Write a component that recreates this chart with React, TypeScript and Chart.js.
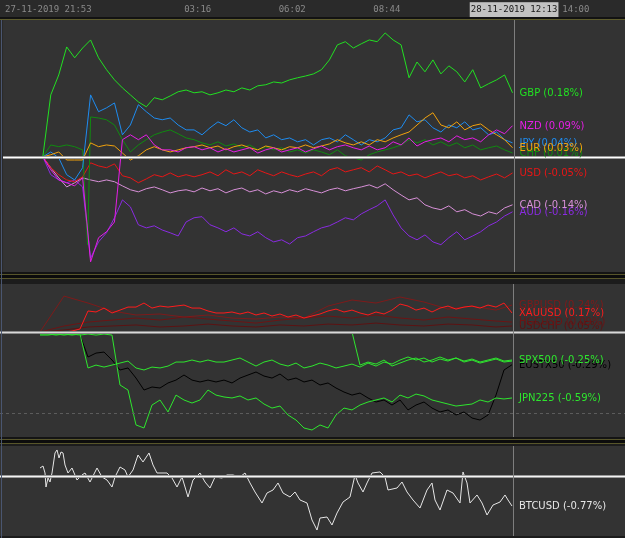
import React, { useEffect, useRef } from 'react';
import { Chart, registerables } from 'chart.js';

Chart.register(...registerables);

// ---------- axis / time data ----------
const bars = [40, 48, 56, 64, 72, 80, 88, 96, 104, 112, 120, 128, 136, 144, 152, 160, 168, 176, 184, 192,
  200, 208, 216, 224, 232, 240, 248, 256, 264, 272, 280, 288, 296, 304, 312, 320, 328, 336, 344, 352,
  360, 368, 376, 384, 392, 400, 408, 416, 424, 432, 440, 448, 456, 464, 472, 480, 488, 496, 504, 512];
const chfBars = [40, 48, 56, 64, 72, 80, 85, 88, 96, 104, 112, 120, 128, 136, 144, 152, 160, 168, 176, 184, 192,
  200, 208, 216, 224, 232, 240, 248, 256, 264, 272, 280, 288, 296, 304, 312, 320, 328, 336, 344, 352,
  360, 368, 376, 384, 392, 400, 408, 416, 424, 432, 440, 448, 456, 464, 472, 480, 488, 496, 504, 512];
const coarseBars = [40, 64, 88, 112, 136, 160, 184, 208, 232, 256, 280, 304, 328, 352, 376, 400, 424, 448, 472, 496, 512];
const btcBars = [40, 43, 45, 46, 48, 50, 52, 55, 57, 59, 61, 63, 65, 68, 72, 77, 82, 85, 90, 97,
  102, 107, 112, 115, 120, 125, 128, 133, 138, 143, 149, 153, 157, 162, 167, 172, 177, 182, 188, 193,
  200, 205, 210, 215, 222, 227, 233, 240, 245, 250, 255, 262, 267, 273, 278, 283, 290, 295, 300, 307,
  312, 317, 320, 327, 332, 337, 343, 350, 355, 358, 363, 367, 372, 380, 385, 388, 397, 402, 407, 413,
  420, 427, 432, 435, 440, 447, 453, 460, 463, 467, 470, 477, 482, 487, 493, 500, 505, 508, 512];
const tickBars = [2, 182, 277, 372, 470, 562];
const tickLabels = ['27-11-2019 21:53', '03:16', '06:02', '08:44', '28-11-2019 12:13', '14:00'];
const cursorBar = 513;
const highlightedTick = 4;

// ---------- panel 1: currencies (%) ----------
const gbp = [0, 0.177, 0.234, 0.314, 0.283, 0.311, 0.334, 0.283, 0.249, 0.220,
  0.197, 0.177, 0.157, 0.143, 0.169, 0.163, 0.174, 0.186, 0.191, 0.183,
  0.186, 0.177, 0.183, 0.191, 0.186, 0.197, 0.191, 0.203, 0.206, 0.214,
  0.211, 0.220, 0.226, 0.231, 0.237, 0.249, 0.277, 0.320, 0.329, 0.311,
  0.323, 0.334, 0.329, 0.354, 0.334, 0.320, 0.226, 0.271, 0.243, 0.277,
  0.237, 0.260, 0.243, 0.214, 0.249, 0.197, 0.209, 0.220, 0.234, 0.183];
const nzd = [0, -0.037, -0.066, -0.074, -0.083, -0.060, -0.300, -0.231, -0.214, -0.186,
  0.049, 0.063, 0.049, 0.063, 0.034, 0.020, 0.020, 0.014, 0.026, 0.029,
  0.020, 0.026, 0.014, 0.023, 0.014, 0.020, 0.026, 0.011, 0.020, 0.026,
  0.014, 0.020, 0.026, 0.014, 0.023, 0.031, 0.020, 0.029, 0.034, 0.026,
  0.020, 0.031, 0.020, 0.026, 0.043, 0.034, 0.054, 0.031, 0.043, 0.049,
  0.054, 0.043, 0.060, 0.049, 0.054, 0.043, 0.063, 0.077, 0.066, 0.089];
const jpy = [0, 0.014, -0.003, -0.051, -0.066, -0.031, 0.177, 0.129, 0.140, 0.154,
  0.063, 0.091, 0.149, 0.129, 0.111, 0.106, 0.111, 0.091, 0.077, 0.077,
  0.063, 0.083, 0.100, 0.089, 0.106, 0.083, 0.071, 0.077, 0.054, 0.063,
  0.049, 0.054, 0.043, 0.049, 0.034, 0.049, 0.054, 0.043, 0.063, 0.049,
  0.034, 0.049, 0.043, 0.054, 0.077, 0.083, 0.120, 0.100, 0.106, 0.083,
  0.071, 0.091, 0.083, 0.100, 0.077, 0.083, 0.063, 0.071, 0.049, 0.040];
const eur = [0, 0.006, 0.014, -0.009, -0.009, -0.009, 0.040, 0.029, 0.034, 0.031,
  0.011, -0.009, 0.003, 0.020, 0.029, 0.020, 0.014, 0.020, 0.026, 0.029,
  0.034, 0.026, 0.031, 0.020, 0.029, 0.034, 0.026, 0.020, 0.031, 0.026,
  0.020, 0.029, 0.026, 0.034, 0.026, 0.031, 0.037, 0.049, 0.040, 0.034,
  0.043, 0.034, 0.049, 0.043, 0.054, 0.063, 0.071, 0.091, 0.111, 0.126,
  0.091, 0.083, 0.100, 0.077, 0.089, 0.094, 0.077, 0.063, 0.049, 0.026];
const chf = [0, 0.034, 0.029, 0.034, 0.029, 0.020, -0.251, 0.114, 0.111, 0.106, 0.091,
  0.049, 0.014, 0.034, 0.049, 0.063, 0.071, 0.077, 0.066, 0.054, 0.049,
  0.040, 0.034, 0.043, 0.031, 0.037, 0.026, 0.034, 0.020, 0.029, 0.020,
  0.026, 0.014, 0.020, 0.011, 0.020, 0.014, 0.006, 0.020, 0.003, -0.003,
  -0.009, 0.006, 0.014, 0.020, 0.026, 0.034, 0.049, 0.040, 0.049, 0.034,
  0.043, 0.031, 0.040, 0.026, 0.034, 0.020, 0.026, 0.031, 0.020, 0.011];
const usd = [0, -0.031, -0.051, -0.066, -0.071, -0.057, -0.017, -0.026, -0.031, -0.020,
  -0.054, -0.060, -0.074, -0.063, -0.051, -0.057, -0.046, -0.057, -0.051, -0.057,
  -0.051, -0.043, -0.054, -0.037, -0.049, -0.043, -0.054, -0.037, -0.046, -0.054,
  -0.043, -0.051, -0.057, -0.049, -0.043, -0.054, -0.037, -0.031, -0.043, -0.037,
  -0.031, -0.043, -0.026, -0.037, -0.049, -0.043, -0.054, -0.049, -0.060, -0.051,
  -0.043, -0.054, -0.049, -0.060, -0.054, -0.066, -0.057, -0.049, -0.060, -0.046];
const cad = [0, -0.031, -0.060, -0.086, -0.074, -0.060, -0.066, -0.071, -0.066, -0.071,
  -0.083, -0.094, -0.100, -0.091, -0.086, -0.094, -0.103, -0.097, -0.094, -0.100,
  -0.089, -0.097, -0.091, -0.103, -0.094, -0.089, -0.100, -0.094, -0.106, -0.097,
  -0.103, -0.094, -0.100, -0.091, -0.097, -0.103, -0.094, -0.089, -0.097, -0.091,
  -0.086, -0.080, -0.089, -0.077, -0.094, -0.109, -0.123, -0.117, -0.137, -0.146,
  -0.151, -0.140, -0.157, -0.151, -0.163, -0.169, -0.157, -0.163, -0.146, -0.137];
const aud = [0, -0.051, -0.066, -0.074, -0.066, -0.086, -0.289, -0.243, -0.217, -0.174,
  -0.123, -0.143, -0.194, -0.203, -0.197, -0.209, -0.217, -0.226, -0.186, -0.174,
  -0.171, -0.194, -0.203, -0.214, -0.203, -0.220, -0.226, -0.214, -0.231, -0.243,
  -0.237, -0.249, -0.231, -0.226, -0.214, -0.203, -0.197, -0.186, -0.174, -0.180,
  -0.163, -0.151, -0.140, -0.123, -0.166, -0.203, -0.226, -0.237, -0.223, -0.243,
  -0.251, -0.231, -0.214, -0.237, -0.226, -0.214, -0.197, -0.186, -0.169, -0.157];

// ---------- panel 2: commodities / indices (%) ----------
const xauusd = [0, 0, -0.009, 0, 0.009, 0.027, 0.188, 0.179, 0.214, 0.170,
  0.196, 0.223, 0.223, 0.259, 0.214, 0.232, 0.223, 0.232, 0.241, 0.214,
  0.214, 0.188, 0.170, 0.170, 0.179, 0.161, 0.179, 0.152, 0.170, 0.143,
  0.161, 0.134, 0.152, 0.125, 0.143, 0.161, 0.188, 0.205, 0.179, 0.196,
  0.170, 0.152, 0.179, 0.161, 0.196, 0.250, 0.232, 0.196, 0.214, 0.179,
  0.214, 0.232, 0.205, 0.223, 0.232, 0.214, 0.241, 0.223, 0.259, 0.170];
const gbpusd = [0, 0.321, 0.259, 0.188, 0.152, 0.161, 0.134, 0.152, 0.125, 0.116, 0.134,
  0.125, 0.232, 0.286, 0.259, 0.313, 0.268, 0.205, 0.232, 0.196, 0.241];
const hgcusd = [0, 0.054, 0.089, 0.107, 0.125, 0.107, 0.134, 0.116, 0.098, 0.080, 0.107,
  0.125, 0.143, 0.125, 0.152, 0.125, 0.107, 0.134, 0.116, 0.098, 0.089];
const usdchf = [0, 0.018, 0.045, 0.054, 0.063, 0.045, 0.054, 0.071, 0.054, 0.045, 0.063,
  0.054, 0.071, 0.063, 0.080, 0.063, 0.054, 0.071, 0.063, 0.045, 0.054];
const spx500 = [-0.009, -0.009, -0.018, -0.009, -0.018, -0.009, 0, 0, 0, 0,
  0, 0, 0, 0, 0, 0, 0, 0, 0, 0,
  0, 0, 0, 0, 0, 0, 0, 0, 0, 0,
  0, 0, 0, 0, 0, 0, 0, 0, 0, 0,
  -0.295, -0.268, -0.286, -0.250, -0.304, -0.277, -0.250, -0.232, -0.268, -0.250,
  -0.223, -0.250, -0.232, -0.259, -0.241, -0.268, -0.250, -0.232, -0.259, -0.250];
const usIndexFut = [-0.018, -0.018, -0.027, -0.018, -0.027, -0.018, -0.321, -0.295, -0.313, -0.295,
  -0.277, -0.259, -0.321, -0.339, -0.313, -0.321, -0.304, -0.268, -0.268, -0.250,
  -0.268, -0.250, -0.268, -0.268, -0.250, -0.232, -0.268, -0.304, -0.268, -0.250,
  -0.286, -0.304, -0.277, -0.321, -0.304, -0.277, -0.295, -0.321, -0.304, -0.286,
  -0.313, -0.277, -0.304, -0.268, -0.286, -0.250, -0.223, -0.250, -0.232, -0.268,
  -0.241, -0.259, -0.232, -0.268, -0.250, -0.277, -0.259, -0.241, -0.268, -0.259];
const eustx50 = [-0.009, -0.009, -0.018, -0.009, -0.009, -0.027, -0.223, -0.188, -0.179, -0.250,
  -0.339, -0.321, -0.411, -0.518, -0.491, -0.500, -0.455, -0.429, -0.384, -0.429,
  -0.446, -0.429, -0.446, -0.429, -0.455, -0.411, -0.384, -0.357, -0.393, -0.411,
  -0.375, -0.429, -0.411, -0.446, -0.429, -0.473, -0.455, -0.500, -0.536, -0.563,
  -0.545, -0.589, -0.625, -0.607, -0.652, -0.607, -0.696, -0.652, -0.625, -0.679,
  -0.714, -0.696, -0.741, -0.714, -0.768, -0.786, -0.741, -0.563, -0.339, -0.292];
const jpn225 = [-0.027, -0.027, -0.018, -0.027, -0.018, -0.027, -0.018, -0.027, -0.018, -0.027,
  -0.473, -0.518, -0.830, -0.857, -0.652, -0.607, -0.714, -0.563, -0.607, -0.634,
  -0.607, -0.518, -0.563, -0.580, -0.589, -0.571, -0.607, -0.589, -0.643, -0.679,
  -0.661, -0.741, -0.786, -0.857, -0.875, -0.830, -0.857, -0.741, -0.679, -0.696,
  -0.652, -0.625, -0.607, -0.589, -0.625, -0.563, -0.589, -0.554, -0.571, -0.607,
  -0.625, -0.643, -0.661, -0.652, -0.643, -0.607, -0.625, -0.589, -0.598, -0.589];
const panel2Guide = -0.72;

// ---------- panel 3: bitcoin (%) ----------
const btcusd = [0.205, 0.256, 0.077, -0.282, -0.051, -0.154, 0.077, 0.590, 0.667, 0.462,
  0.615, 0.590, 0.282, 0.077, 0.205, -0.103, 0.026, 0.077, -0.154, 0.205,
  -0.026, -0.103, -0.282, -0.026, 0.231, 0.154, -0.026, 0.154, 0.538, 0.359,
  0.590, 0.282, 0.077, 0.077, 0.077, -0.051, -0.282, -0.026, -0.538, -0.103,
  0.077, -0.154, -0.308, -0.026, -0.051, 0.026, 0.026, -0.026, 0.077, -0.179,
  -0.410, -0.692, -0.436, -0.359, -0.179, -0.436, -0.538, -0.410, -0.615, -0.692,
  -1.128, -1.385, -1.077, -1.051, -1.256, -0.949, -0.667, -0.538, 0.026, -0.179,
  -0.410, -0.179, 0.077, 0.103, -0.026, -0.359, -0.308, -0.154, -0.410, -0.615,
  -0.821, -0.359, -0.179, -0.615, -0.872, -0.359, -0.436, -0.692, 0.103, -0.179,
  -0.692, -0.487, -0.692, -1.000, -0.744, -0.667, -0.487, -0.615, -0.770];

type SeriesDef = { name: string; color: string; x: number[]; y: number[] };

const panel1Series: SeriesDef[] = [
  { name: 'GBP', color: '#22e022', x: bars, y: gbp },
  { name: 'NZD', color: '#e61ee6', x: bars, y: nzd },
  { name: 'EUR', color: '#f2a20c', x: bars, y: eur },
  { name: 'JPY', color: '#1e8cf0', x: bars, y: jpy },
  { name: 'CHF', color: '#108a10', x: chfBars, y: chf },
  { name: 'USD', color: '#e81616', x: bars, y: usd },
  { name: 'CAD', color: '#d890d8', x: bars, y: cad },
  { name: 'AUD', color: '#8a2be2', x: bars, y: aud },
];
const panel2Series: SeriesDef[] = [
  { name: 'XAUUSD', color: '#ff1c1c', x: bars, y: xauusd },
  { name: 'SPX500', color: '#2ee62e', x: bars, y: spx500 },
  { name: '', color: '#2ee62e', x: bars, y: usIndexFut },
  { name: 'JPN225', color: '#2ee62e', x: bars, y: jpn225 },
  { name: 'EUSTX50', color: '#000000', x: bars, y: eustx50 },
  { name: 'GBPUSD', color: '#7e1a1a', x: coarseBars, y: gbpusd },
  { name: 'HGCUSD', color: '#6c1414', x: coarseBars, y: hgcusd },
  { name: 'USDCHF', color: '#5c1212', x: coarseBars, y: usdchf },
];
const panel3Series: SeriesDef[] = [
  { name: 'BTCUSD', color: '#e6e6e6', x: btcBars, y: btcusd },
];

const decorPlugin = {
  id: 'decor',
  beforeDraw(chart: any, _a: any, opts: any) {
    const { ctx, chartArea: a, width, height } = chart;
    ctx.save();
    ctx.fillStyle = opts.outerBg;
    ctx.fillRect(0, 0, width, height);
    if (opts.header) {
      ctx.fillStyle = '#121212';
      ctx.fillRect(0, a.top - 3, width, 2);
      ctx.fillStyle = '#5e5c2c';
      ctx.fillRect(0, a.top - 1, width, 1);
    }
    ctx.fillStyle = opts.panelBg;
    ctx.fillRect(a.left, a.top, a.right - a.left, a.bottom - a.top);
    ctx.restore();
  },
  afterDatasetsDraw(chart: any, _a: any, opts: any) {
    const { ctx, chartArea: a, scales } = chart;
    ctx.save();
    if (opts.guide !== null && opts.guide !== undefined) {
      const gy = Math.round(scales.y.getPixelForValue(opts.guide)) + 0.5;
      ctx.strokeStyle = '#5c5c5c';
      ctx.lineWidth = 1;
      ctx.setLineDash([3, 3]);
      ctx.beginPath();
      ctx.moveTo(a.left, gy);
      ctx.lineTo(a.right, gy);
      ctx.stroke();
      ctx.setLineDash([]);
    }
    const y0 = Math.round(scales.y.getPixelForValue(0));
    ctx.fillStyle = opts.zeroEdge;
    ctx.fillRect(a.left, y0 - 1, a.right - a.left, 3);
    ctx.fillStyle = opts.zeroColor;
    ctx.fillRect(a.left, y0, a.right - a.left, 1);
    const cx = Math.round(scales.x.getPixelForValue(opts.cursor)) + 0.5;
    ctx.strokeStyle = '#7e7e7e';
    ctx.lineWidth = 1;
    ctx.beginPath();
    ctx.moveTo(cx, a.top);
    ctx.lineTo(cx, a.bottom);
    ctx.stroke();
    ctx.font = '10px "DejaVu Sans"';
    ctx.textBaseline = 'middle';
    ctx.textAlign = 'left';
    const ds = chart.data.datasets;
    for (let i = ds.length - 1; i >= 0; i--) {
      const d = ds[i];
      if (!d.label) continue;
      const meta = chart.getDatasetMeta(i);
      const pt = meta.data[meta.data.length - 1];
      const last = d.data[d.data.length - 1].y;
      ctx.fillStyle = d.borderColor;
      ctx.fillText(`${d.label} (${last.toFixed(2)}%)`, pt.x + 7, Math.round(pt.y));
    }
    ctx.restore();
  },
};

type PanelProps = {
  top: number;
  height: number;
  series: SeriesDef[];
  yMin: number;
  yMax: number;
  header?: boolean;
  guide?: number | null;
  zeroColor: string;
  zeroEdge: string;
};

function Panel({ top, height, series, yMin, yMax, header = false, guide = null, zeroColor, zeroEdge }: PanelProps) {
  const ref = useRef<HTMLCanvasElement | null>(null);
  useEffect(() => {
    if (!ref.current) return;
    const xScale: any = header
      ? {
          type: 'linear',
          min: 0,
          max: 625,
          display: true,
          position: 'top',
          grid: { display: false, drawTicks: false },
          border: { display: false },
          afterFit: (s: any) => {
            s.height = 20;
          },
          afterBuildTicks: (s: any) => {
            s.ticks = tickBars.map((v) => ({ value: v }));
          },
          ticks: {
            autoSkip: false,
            maxRotation: 0,
            minRotation: 0,
            align: 'start',
            padding: 5,
            font: { family: '"DejaVu Sans Mono"', size: 9 },
            color: (c: any) => (c.index === highlightedTick ? '#161616' : '#8a8a8a'),
            showLabelBackdrop: true,
            backdropColor: (c: any) => (c.index === highlightedTick ? '#c2c2c2' : 'rgba(0,0,0,0)'),
            backdropPadding: { x: 1, y: 2 },
            callback: (_v: any, i: number) => tickLabels[i],
          },
        }
      : { type: 'linear', min: 0, max: 625, display: false };
    const chart = new Chart(ref.current, {
      type: 'line',
      data: {
        datasets: series.map((s) => ({
          label: s.name,
          data: s.x.map((x, i) => ({ x, y: s.y[i] })),
          borderColor: s.color,
          backgroundColor: s.color,
          borderWidth: 1,
          pointRadius: 0,
          tension: 0,
          fill: false,
        })),
      },
      options: {
        responsive: false,
        animation: false,
        devicePixelRatio: 1,
        events: [],
        layout: { padding: 0 },
        plugins: {
          legend: { display: false },
          tooltip: { enabled: false },
          decor: {
            outerBg: '#2a2a2a',
            panelBg: '#333333',
            header,
            guide,
            zeroColor,
            zeroEdge,
            cursor: cursorBar,
          },
        } as any,
        scales: {
          x: xScale,
          y: { display: false, min: yMin, max: yMax },
        },
      },
      plugins: [decorPlugin as any],
    });
    return () => chart.destroy();
  }, []);
  return (
    <canvas
      ref={ref}
      width={625}
      height={height}
      style={{ position: 'absolute', left: 0, top, width: 625, height }}
    />
  );
}

const sepStyle = (top: number, height: number): React.CSSProperties => ({
  position: 'absolute',
  left: 0,
  top,
  width: 625,
  height,
  background:
    'linear-gradient(to bottom, #141414 0px, #141414 2px, #57552a 2px, #57552a 3px, #0c0c0c 3px, #0c0c0c 6px, #57552a 6px, #57552a 7px, #1c1c1c 7px, #1c1c1c 100%)',
});

export default function App() {
  return (
    <div style={{ position: 'fixed', left: 0, top: 0, width: 625, height: 538, background: '#1c1c1c', overflow: 'hidden' }}>
      <Panel top={0} height={272} series={panel1Series} yMin={-0.329} yMax={0.391} header zeroColor="#ffffff" zeroEdge="#9a9a9a" />
      <div style={sepStyle(272, 12)} />
      <Panel top={284} height={153} series={panel2Series} yMin={-0.9375} yMax={0.429} guide={panel2Guide} zeroColor="#d8d8d8" zeroEdge="#8a8a8a" />
      <div style={sepStyle(437, 9)} />
      <Panel top={446} height={90} series={panel3Series} yMin={-1.538} yMax={0.769} zeroColor="#f4f4f4" zeroEdge="#9a9a9a" />
      <div style={{ position: 'absolute', left: 1, top: 20, width: 1, height: 518, background: '#4a5670' }} />
    </div>
  );
}
